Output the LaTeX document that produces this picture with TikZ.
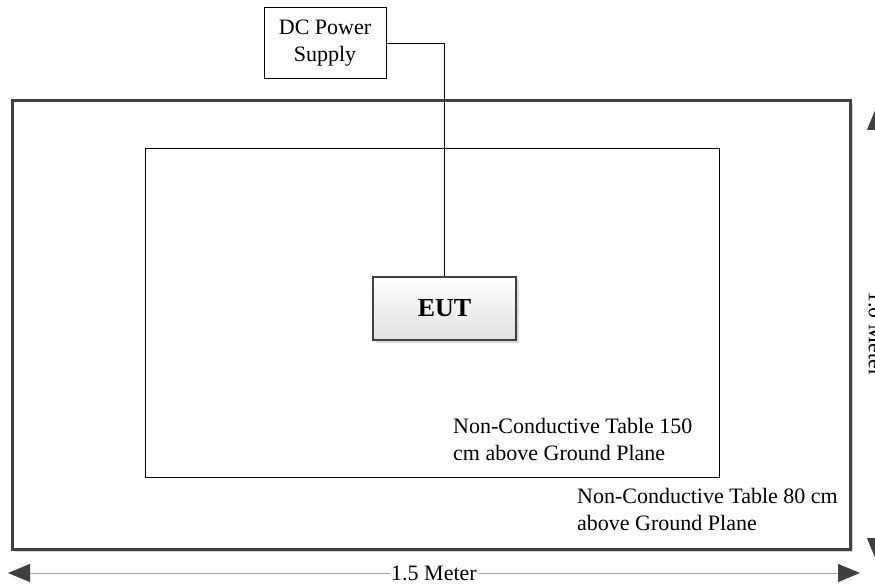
\documentclass[tikz,border=0pt]{standalone}
\usepackage{fontspec}
\setmainfont{Liberation Serif}
\usetikzlibrary{arrows.meta,shadows}

\begin{document}
\begin{tikzpicture}[x=1pt, y=-1pt,
    every node/.style={font=\fontsize{22}{27}\selectfont},
    labeltext/.style={align=left, inner sep=0pt, anchor=north west},
    softshadow/.style={drop shadow={shadow xshift=3pt, shadow yshift=-3pt, opacity=0.3}},
    meterarrow/.style={gray!70, line width=1pt, {Triangle[length=22pt, width=18pt, color=black!75]}-{Triangle[length=22pt, width=18pt, color=black!75]}}]
    \useasboundingbox (0,0) rectangle (875,588);
    \clip (0,0) rectangle (875,588);
    % The two tables.
        \draw[black!75, line width=3pt, fill=white, softshadow] (12,101) rectangle (850,549);
        \draw[black, line width=1pt] (145,149) rectangle (719,477);
    % Supply and EUT.
        \node[draw, line width=1pt, minimum width=122pt, minimum height=71pt, inner sep=0pt, align=center] (psu) at (325,43.5) {DC Power\\Supply};
        \node[draw=black!75, line width=2pt, minimum width=143pt, minimum height=63pt, top color=white, bottom color=black!12, softshadow, font=\fontsize{26}{30}\selectfont\bfseries] (eut) at (444.5,308.5) {EUT};
        \draw[line width=0.8pt] (psu.east) -| (eut.north);
    % Below nodes are the table labels.
        \node[labeltext] (upperlabel) at (453,418) {Non-Conductive Table 150\\cm above Ground Plane};
        \node[labeltext] (lowerlabel) at (577,488) {Non-Conductive Table 80 cm\\above Ground Plane};
    % This draws the dimensions.
        \coordinate (widthleft) at (8,573);
        \coordinate (widthright) at (860,573);
        \coordinate (depthtop) at (876,108);
        \coordinate (depthbottom) at (876,560);
        \draw[meterarrow] (widthleft) -- node[fill=white, text=black, inner sep=1pt] (widthlabel) {1.5 Meter} (widthright);
        \draw[meterarrow] (depthtop) -- node[fill=white, text=black, inner sep=1pt, rotate=-90] (depthlabel) {1.0 Meter} (depthbottom);
\end{tikzpicture}
\end{document}
